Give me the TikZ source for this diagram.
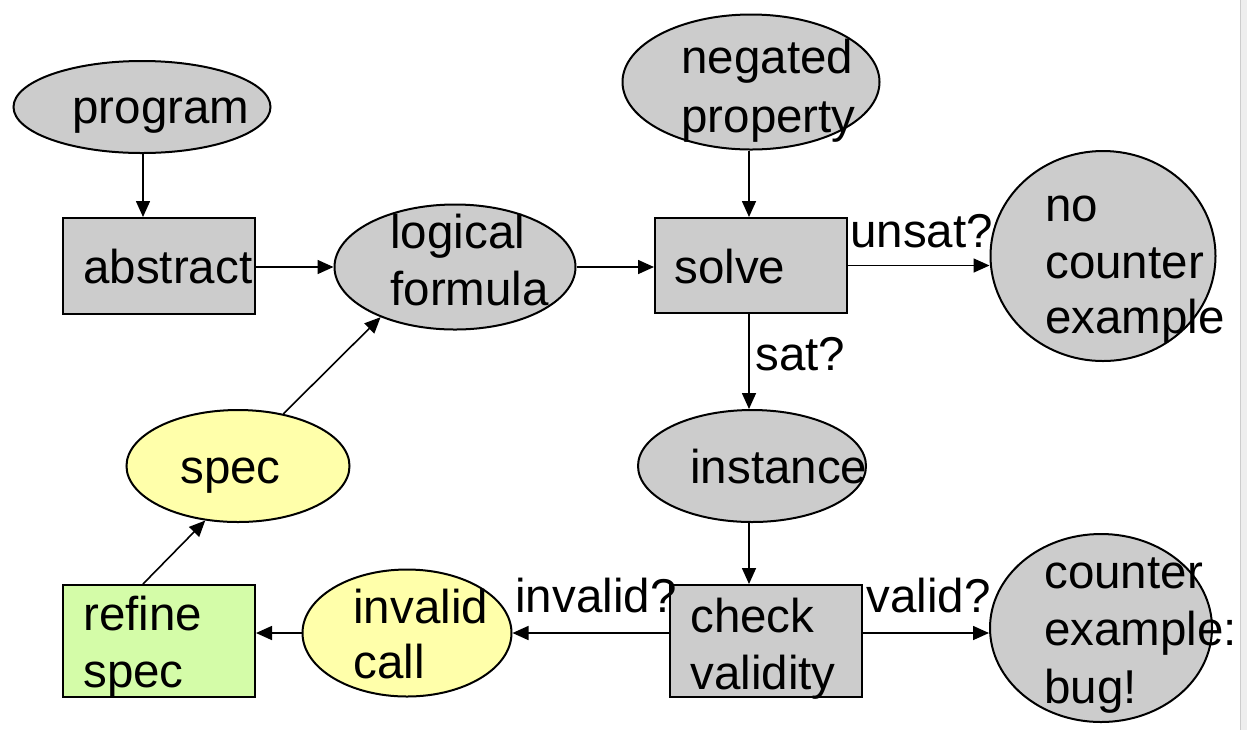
\documentclass[tikz,border=0pt]{standalone}
\usepackage{fontspec}
\setmainfont{Liberation Sans}
\usetikzlibrary{shapes.geometric,arrows.meta}
\definecolor{boxgray}{RGB}{204,204,204}
\definecolor{specyellow}{RGB}{255,255,170}
\definecolor{refgreen}{RGB}{212,252,168}
\definecolor{stripgray}{RGB}{238,238,238}
\tikzset{
  grayell/.style={ellipse, draw=black, line width=1pt, fill=boxgray, inner sep=0pt},
  yellell/.style={ellipse, draw=black, line width=1pt, fill=specyellow, inner sep=0pt},
  graybox/.style={rectangle, draw=black, line width=1pt, fill=boxgray, inner sep=0pt},
  greenbox/.style={rectangle, draw=black, line width=1pt, fill=refgreen, inner sep=0pt},
  txt/.style={anchor=base west, inner sep=0pt, font=\fontsize{23.75}{28}\selectfont},
  arr/.style={line width=0.8pt, -{Triangle[length=8pt,width=7pt]}}
}
\begin{document}
\begin{tikzpicture}[x=0.5pt,y=-0.5pt]
\useasboundingbox (0,0) rectangle (1247,730);
\fill[white] (0,0) rectangle (1247,730);
\fill[stripgray] (1240,0) rectangle (1247,730);
\draw[gray!40, line width=0.5pt] (1240.5,0) -- (1240.5,730);

% shapes
\node[grayell, minimum width=128.5pt, minimum height=46pt] (program) at (142,107) {};
\node[graybox, minimum width=96pt, minimum height=48pt] (abstract) at (159,266) {};
\node[grayell, minimum width=120.5pt, minimum height=62.5pt] (logical) at (455,267) {};
\node[grayell, minimum width=128.5pt, minimum height=67.5pt] (negated) at (751,82) {};
\node[graybox, minimum width=96pt, minimum height=47.5pt] (solve) at (751,265.5) {};
\node[grayell, minimum width=112.5pt, minimum height=105pt] (nocex) at (1103,256) {};
\node[grayell, minimum width=114pt, minimum height=56pt] (instance) at (752,466) {};
\node[graybox, minimum width=96pt, minimum height=56pt] (check) at (766,641) {};
\node[grayell, minimum width=111pt, minimum height=94pt] (bug) at (1101,628) {};
\node[yellell, minimum width=104.5pt, minimum height=63.5pt] (invalid) at (407,633) {};
\node[greenbox, minimum width=96pt, minimum height=56pt] (refine) at (159,641) {};
\node[yellell, minimum width=111.5pt, minimum height=56pt] (spec) at (238,466) {};

% connectors
\draw[arr] ([xshift=0.5pt]program.south) -- ([xshift=0.5pt]program.south |- abstract.north);
\draw[arr] (abstract.east |- logical.west) -- (logical.west);
\draw[arr] (logical.east) -- (logical.east -| solve.west);
\draw[arr] ([xshift=-1pt]negated.south) -- ([xshift=-1pt]negated.south |- solve.north);
\draw[arr] (solve.east) -- (solve.east -| nocex.west);
\draw[arr] ([xshift=-1pt]solve.south) -- ([xshift=-1pt]solve.south |- instance.north);
\draw[arr] ([xshift=-1.5pt]instance.south) -- ([xshift=-1.5pt]instance.south |- check.north);
\draw[arr] ([yshift=4pt]check.east) -- ([yshift=4pt]check.east -| bug.west);
\draw[arr] ([yshift=4pt]check.west) -- ([yshift=4pt]check.west -| invalid.east);
\draw[arr] (invalid.west) -- (invalid.west -| refine.east);
\draw[arr] ([xshift=-8pt]refine.north) -- (spec.239.5);
\draw[arr] (spec.49) -- (logical.214);

% texts
\node[txt] (programT) at (72,123) {program};
\node[txt] (abstractT) at (83,283) {abstract};
\node[txt] (logicalT1) at (390,248) {logical};
\node[txt] (logicalT2) at (390,305) {formula};
\node[txt] (negatedT1) at (681,73) {negated};
\node[txt] (negatedT2) at (681,132) {property};
\node[txt] (solveT) at (674,283) {solve};
\node[txt] (unsatT) at (850,247) {unsat?};
\node[txt] (nocexT1) at (1045,221) {no};
\node[txt] (nocexT2) at (1045,278) {counter};
\node[txt] (nocexT3) at (1045,333) {example};
\node[txt] (satT) at (755,370) {sat?};
\node[txt] (instanceT) at (690,483) {instance};
\node[txt] (checkT1) at (690,632) {check};
\node[txt] (checkT2) at (690,689) {validity};
\node[txt] (validT) at (866,612) {valid?};
\node[txt] (invalidQT) at (515,612) {invalid?};
\node[txt] (bugT1) at (1044,588) {counter};
\node[txt] (bugT2) at (1044,645) {example:};
\node[txt] (bugT3) at (1044,703) {bug!};
\node[txt] (invalidT1) at (353,623) {invalid};
\node[txt] (invalidT2) at (353,678) {call};
\node[txt] (refineT1) at (83,630) {refine};
\node[txt] (refineT2) at (83,687) {spec};
\node[txt] (specT) at (180,483) {spec};
\end{tikzpicture}
\end{document}
